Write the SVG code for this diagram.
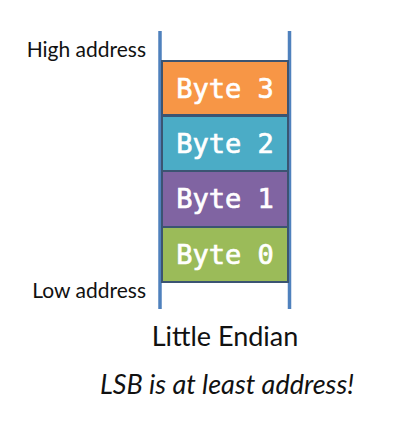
<svg xmlns="http://www.w3.org/2000/svg" width="411" height="428" viewBox="0 0 411 428">
<style>
.lbl{font-family:Lato,"Open Sans",sans-serif;fill:#111}
.byte{stroke:#3b5472;stroke-width:2}
.bt{font-family:"DejaVu Sans Mono",monospace;font-size:27px;fill:#fff;stroke:#fff;stroke-width:0.7;text-anchor:middle}
.rail{stroke:#4f81bd;stroke-width:3.5;fill:none}
</style>
<rect width="411" height="428" fill="#fff"/>
<g id="connectors">
<line class="rail" x1="160" y1="31" x2="160" y2="309"/>
<line class="rail" x1="289.5" y1="31" x2="289.5" y2="309"/>
</g>
<g id="byte3"><rect class="byte" x="162" y="61" width="126" height="54" fill="#f79646"/><text class="bt" x="225" y="98">Byte 3</text></g>
<g id="byte2"><rect class="byte" x="162" y="116" width="126" height="55" fill="#4bacc6"/><text class="bt" x="225" y="153">Byte 2</text></g>
<g id="byte1"><rect class="byte" x="162" y="171" width="126" height="56" fill="#8064a2"/><text class="bt" x="225" y="208">Byte 1</text></g>
<g id="byte0"><rect class="byte" x="162" y="227" width="126" height="55" fill="#9bbb59"/><text class="bt" x="225" y="264">Byte 0</text></g>
<g id="labels">
<text class="lbl" x="146" y="57" font-size="21" text-anchor="end">High address</text>
<text class="lbl" x="146" y="298" font-size="21" text-anchor="end">Low address</text>
<text class="lbl" x="225" y="346" font-size="27" text-anchor="middle">Little Endian</text>
<text class="lbl" x="227" y="394" font-size="27" font-style="italic" text-anchor="middle">LSB is at least address!</text>
</g>
</svg>
